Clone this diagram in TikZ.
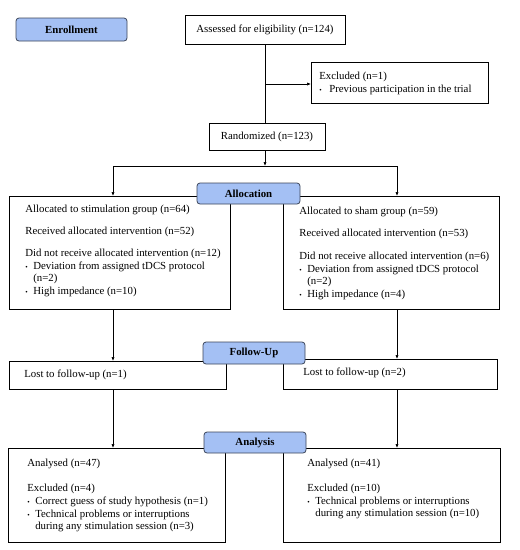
\documentclass[tikz,border=0pt]{standalone}
\usepackage{fontspec}
\setmainfont{Liberation Serif}
\usetikzlibrary{arrows.meta}
\definecolor{phasefill}{RGB}{164,192,244}
\definecolor{phasedraw}{RGB}{60,70,90}
\newcommand{\bx}[5]{\begin{minipage}[c][#2pt][t]{#1pt}\raggedright\leftskip=#3pt\parindent=0pt\parskip=0pt\baselineskip=12pt\vspace*{#4pt}#5\end{minipage}}
\newcommand{\itm}[2][8]{\par\vspace{1pt}\hangindent=#1pt\hangafter=1\noindent\makebox[#1pt][l]{\raisebox{0.4pt}{\scriptsize\textbullet}}#2}
\newcommand{\gap}[1]{\par\vspace{#1pt}}
\begin{document}
\begin{tikzpicture}[x=1pt,y=-1pt,font=\fontsize{10.8}{12}\selectfont,
  box/.style={draw, line width=0.7pt, inner sep=0pt, anchor=north west},
  cbox/.style={draw, line width=0.7pt, inner sep=0pt, align=center},
  phase/.style={draw=phasedraw, fill=phasefill, line width=0.8pt, rounded corners=3pt, inner sep=0pt, font=\fontsize{10.8}{12}\selectfont\bfseries},
  arr/.style={line width=0.7pt, -{Latex[length=4pt,width=3.2pt]}},
  ln/.style={line width=0.7pt}]
\useasboundingbox (0,0) rectangle (520,550);
\fill[white] (0,0) rectangle (520,550);

% enrollment
\node[phase, minimum width=111pt, minimum height=23pt] (enr) at (71.5,29.5) {Enrollment};
\node[cbox, minimum width=160pt, minimum height=29pt] (assess) at (265,29.5) {Assessed for eligibility (n=124)};
\node[box] (excl) at (311,62) {\bx{177}{41}{8}{9.6}{Excluded (n=1)\itm[10]{Previous participation in the trial}}};
\node[cbox, minimum width=116pt, minimum height=27pt] (rand) at (267,136.5) {Randomized (n=123)};

% allocation
\node[box] (allocL) at (9,196) {\bx{221}{113}{16}{8.6}{Allocated to stimulation group (n=64)\gap{10}Received allocated intervention (n=52)\gap{10}Did not receive allocated intervention (n=12)\itm{Deviation from assigned tDCS protocol\newline(n=2)}\itm{High impedance (n=10)}}};
\node[box] (allocR) at (283,196) {\bx{216}{113}{16}{10.6}{Allocated to sham group (n=59)\gap{10}Received allocated intervention (n=53)\gap{11}Did not receive allocated intervention (n=6)\itm{Deviation from assigned tDCS protocol\newline(n=2)}\itm{High impedance (n=4)}}};
\node[phase, minimum width=103pt, minimum height=21pt] (alloc) at (248.5,193.5) {Allocation};

% follow-up
\node[box] (lostL) at (9,361) {\bx{217}{28}{15}{8.6}{Lost to follow-up (n=1)}};
\node[box] (lostR) at (283,359) {\bx{214}{30}{20}{8.6}{Lost to follow-up (n=2)}};
\node[phase, minimum width=102pt, minimum height=22pt] (fu) at (254,353) {Follow-Up};

% analysis
\node[box] (anaL) at (8,448) {\bx{217}{94}{19}{10.6}{Analysed (n=47)\gap{13}Excluded (n=4)\itm{Correct guess of study hypothesis (n=1)}\itm{Technical problems or interruptions\newline during any stimulation session (n=3)}}};
\node[box] (anaR) at (283,448) {\bx{217}{94}{24}{10.6}{Analysed (n=41)\gap{13}Excluded (n=10)\itm{Technical problems or interruptions\newline during any stimulation session (n=10)}}};
\node[phase, minimum width=102pt, minimum height=21pt] (ana) at (255,442.5) {Analysis};

% connectors
\coordinate (j1) at (265,84);
\coordinate (sL) at (113,166);
\coordinate (sR) at (397,166);
\draw[ln] (assess.south) -- (assess.south |- rand.north);
\draw[arr] (j1) -- (j1 -| excl.west);
\draw[arr] (rand.south -| assess.south) -- (assess.south |- sL);
\draw[ln] (sL) -- (sR);
\draw[arr] (sL) -- (sL |- allocL.north);
\draw[arr] (sR) -- (sR |- allocR.north);
\draw[arr] (sL |- allocL.south) -- (sL |- lostL.north);
\draw[arr] (sR |- allocR.south) -- (sR |- lostR.north);
\draw[arr] (sL |- lostL.south) -- (sL |- anaL.north);
\draw[arr] (sR |- lostR.south) -- (sR |- anaR.north);
\end{tikzpicture}
\end{document}
